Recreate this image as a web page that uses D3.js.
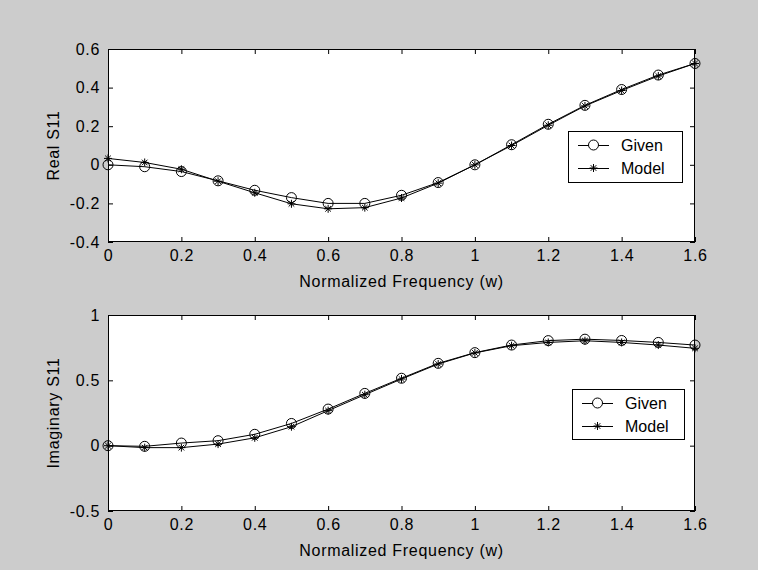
<!DOCTYPE html>
<html>
<head>
<meta charset="utf-8">
<script src="https://cdn.jsdelivr.net/npm/d3@7"></script>
<style>
  body { margin: 0; background: #cccccc; }
  svg { display: block; }
  text { font-family: "Liberation Sans", Arial, sans-serif; font-size: 16px; fill: #000; }
  .tick text, .axlabel { letter-spacing: 0.7px; }
</style>
</head>
<body>
<script>
// frequency points
var freq = [0, 0.1, 0.2, 0.3, 0.4, 0.5, 0.6, 0.7, 0.8, 0.9, 1.0, 1.1, 1.2, 1.3, 1.4, 1.5, 1.6];

// real part of S11
var realGiven = [0, -0.01, -0.035, -0.083, -0.132, -0.17, -0.2, -0.2, -0.158, -0.092, 0.0, 0.104, 0.21, 0.308, 0.39, 0.465, 0.525];
var realModel = [0.033, 0.012, -0.023, -0.085, -0.145, -0.202, -0.228, -0.222, -0.172, -0.095, 0.0, 0.1, 0.205, 0.305, 0.385, 0.46, 0.525];

// imaginary part of S11
var imagGiven = [0, -0.005, 0.02, 0.038, 0.087, 0.17, 0.28, 0.4, 0.516, 0.63, 0.712, 0.77, 0.804, 0.815, 0.805, 0.79, 0.77];
var imagModel = [0, -0.015, -0.015, 0.012, 0.06, 0.145, 0.268, 0.39, 0.51, 0.625, 0.71, 0.765, 0.79, 0.803, 0.79, 0.77, 0.745];

var xTicks = [0, 0.2, 0.4, 0.6, 0.8, 1, 1.2, 1.4, 1.6];
var realTicks = [-0.4, -0.2, 0, 0.2, 0.4, 0.6];
var imagTicks = [-0.5, 0, 0.5, 1];
var seriesNames = ["Given", "Model"];

var W = 758, H = 570;
var svg = d3.select("body").append("svg").attr("width", W).attr("height", H);

var fmt = function(d) { return String(+d.toFixed(2)); };

function drawStar(g, cx, cy, s) {
  var d = "M" + (cx - s) + "," + cy + "H" + (cx + s) +
          "M" + cx + "," + (cy - s) + "V" + (cy + s) +
          "M" + (cx - s * 0.7) + "," + (cy - s * 0.7) + "L" + (cx + s * 0.7) + "," + (cy + s * 0.7) +
          "M" + (cx - s * 0.7) + "," + (cy + s * 0.7) + "L" + (cx + s * 0.7) + "," + (cy - s * 0.7);
  g.append("path").attr("d", d).attr("stroke", "#000").attr("stroke-width", 1).attr("fill", "none");
}

function drawPanel(opt) {
  var left = 108, right = 695;
  var top = opt.top, bottom = opt.bottom;

  var x = d3.scaleLinear().domain([0, 1.6]).range([left, right]);
  var y = d3.scaleLinear().domain(opt.domain).range([bottom, top]);

  var g = svg.append("g");
  g.append("rect")
    .attr("x", left).attr("y", top)
    .attr("width", right - left).attr("height", bottom - top)
    .attr("fill", "#fff");

  // axes, ticks pointing inward
  var xb = g.append("g").attr("transform", "translate(0," + bottom + ")")
    .call(d3.axisBottom(x).tickValues(xTicks).tickSize(-5).tickPadding(8).tickFormat(fmt));
  var xt = g.append("g").attr("transform", "translate(0," + top + ")")
    .call(d3.axisTop(x).tickValues(xTicks).tickSize(-5).tickFormat(""));
  var yl = g.append("g").attr("transform", "translate(" + left + ",0)")
    .call(d3.axisLeft(y).tickValues(opt.ticks).tickSize(-5).tickPadding(8).tickFormat(fmt));
  var yr = g.append("g").attr("transform", "translate(" + right + ",0)")
    .call(d3.axisRight(y).tickValues(opt.ticks).tickSize(-5).tickFormat(""));
  [xb, xt, yl, yr].forEach(function(a) {
    a.select(".domain").remove();
    a.selectAll("line").attr("stroke", "#000");
    a.selectAll("text").style("font-size", "16px").attr("fill", "#000");
  });
  xb.selectAll("text").attr("dy", "0.71em").attr("y", 8);

  g.append("rect")
    .attr("x", left + 0.5).attr("y", top + 0.5)
    .attr("width", right - left - 1).attr("height", bottom - top - 1)
    .attr("fill", "none").attr("stroke", "#000");

  var line = d3.line().x(function(d, i) { return x(freq[i]); }).y(function(d) { return y(d); });

  g.append("path").attr("d", line(opt.given)).attr("fill", "none").attr("stroke", "#000").attr("stroke-width", 1);
  g.append("path").attr("d", line(opt.model)).attr("fill", "none").attr("stroke", "#000").attr("stroke-width", 1);

  g.selectAll("circle.given").data(opt.given).enter().append("circle")
    .attr("class", "given")
    .attr("cx", function(d, i) { return x(freq[i]); })
    .attr("cy", function(d) { return y(d); })
    .attr("r", 5).attr("fill", "none").attr("stroke", "#000");

  opt.model.forEach(function(d, i) { drawStar(g, x(freq[i]), y(d), 4); });

  // axis labels
  g.append("text").attr("class", "axlabel")
    .attr("x", (left + right) / 2).attr("y", bottom + 45)
    .attr("text-anchor", "middle")
    .text("Normalized Frequency (w)");
  g.append("text").attr("class", "axlabel")
    .attr("transform", "translate(59," + ((top + bottom) / 2) + ") rotate(-90)")
    .attr("text-anchor", "middle")
    .text(opt.ylabel);

  // legend
  var lg = opt.legend;
  g.append("rect")
    .attr("x", lg.x + 0.5).attr("y", lg.y + 0.5)
    .attr("width", lg.w).attr("height", lg.h)
    .attr("fill", "#fff").attr("stroke", "#000");
  seriesNames.forEach(function(name, i) {
    var ry = lg.y + 14 + i * 23;
    var x0 = lg.x + 10, x1 = lg.x + 41;
    g.append("line").attr("x1", x0).attr("x2", x1).attr("y1", ry + 0.5).attr("y2", ry + 0.5).attr("stroke", "#000");
    if (i === 0) {
      g.append("circle").attr("cx", (x0 + x1) / 2).attr("cy", ry).attr("r", 5).attr("fill", "#fff").attr("stroke", "#000");
    } else {
      drawStar(g, (x0 + x1) / 2, ry, 4);
    }
    g.append("text").attr("x", lg.x + 53).attr("y", ry).attr("dy", "0.35em").text(name);
  });
}

drawPanel({
  top: 49, bottom: 242, domain: [-0.4, 0.6], ticks: realTicks,
  given: realGiven, model: realModel, ylabel: "Real S11",
  legend: { x: 568, y: 131, w: 114, h: 51 }
});

drawPanel({
  top: 315, bottom: 511, domain: [-0.5, 1], ticks: imagTicks,
  given: imagGiven, model: imagModel, ylabel: "Imaginary S11",
  legend: { x: 572, y: 389, w: 112, h: 50 }
});
</script>
</body>
</html>
